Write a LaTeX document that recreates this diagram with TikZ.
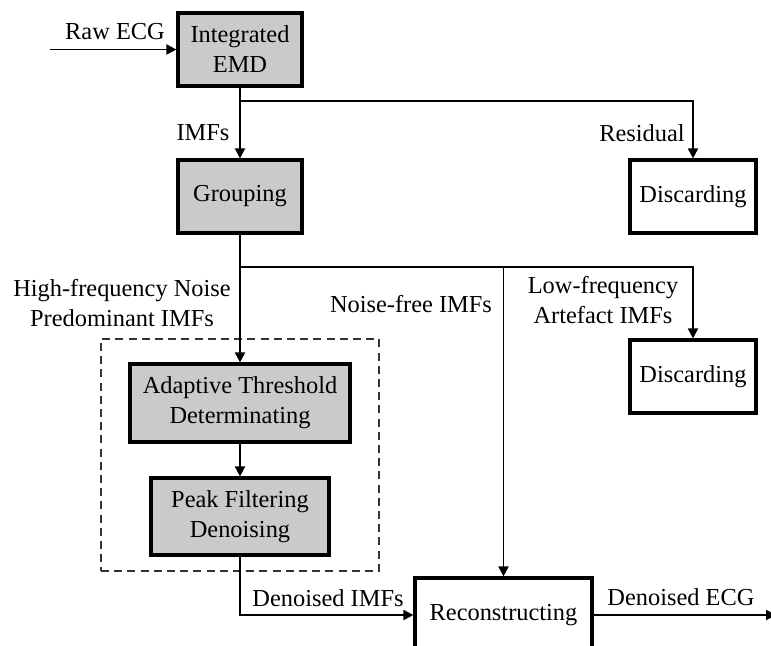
\documentclass[tikz,border=0pt]{standalone}
\usepackage{fontspec}
\setmainfont{Liberation Serif}
\usetikzlibrary{arrows.meta,positioning}
\definecolor{boxgray}{RGB}{202,202,202}
\tikzset{
  blk/.style={draw=black, fill=boxgray, line width=1.6pt, align=center,
              minimum width=62pt, minimum height=36.5pt, inner sep=1pt,
              font=\fontsize{12.2}{15}\selectfont},
  dblk/.style={blk, fill=white, minimum width=63pt},
  flow/.style={-{Triangle[length=5pt,width=5pt]}, line width=0.95pt},
  lbl/.style={font=\fontsize{12.2}{15}\selectfont, align=center, inner sep=0pt},
  dgrp/.style={draw=black!80, dashed, dash pattern=on 4pt off 2.6pt, line width=0.7pt,
               minimum width=139pt, minimum height=116pt},
}
\begin{document}
\begin{tikzpicture}[x=0.5pt, y=-0.5pt]
    \clip (0,0) rectangle (771,645);
    \fill[white] (0,0) rectangle (771,645);
    % denoising group
    \node[dgrp] (dngrp) at (240,455) {};
    % blocks
    \node[blk] (emd) at (240,49.5) {Integrated\\EMD};
    \node[blk] (grp) at (240,196.5) {Grouping};
    \node[dblk] (dis1) at (693,196.5) {Discarding};
    \node[dblk] (dis2) at (693,376.5) {Discarding};
    \node[blk, minimum width=110pt, minimum height=39pt] (adt) at (240,403) {Adaptive Threshold\\Determinating};
    \node[blk, minimum width=89pt, minimum height=38.5pt] (pkf) at (240,516.5) {Peak Filtering\\Denoising};
    \node[dblk, minimum width=88.5pt, minimum height=37pt] (rec) at (503.5,615) {Reconstructing};
    % free ends and split points
    \coordinate (rawin) at (50,49.5);
    \coordinate (ecgout) at (776,615);
    \coordinate (sp1) at (240,101);
    \coordinate (sp2) at (240,267);
    % connectors
    \draw[flow] (rawin) -- (emd.west);
    \draw[flow] (emd.south) -- (grp.north);
    \draw[flow] (sp1) -| (dis1.north);
    \draw[flow] (grp.south) -- (adt.north);
    \draw[flow] (sp2) -| (dis2.north);
    \draw[flow] (sp2 -| rec.north) -- (rec.north);
    \draw[flow] (adt.south) -- (pkf.north);
    \draw[flow] (pkf.south) |- (rec.west);
    \draw[flow] (rec.east) -- (ecgout);
    % labels
    \node[lbl] (lraw) at (115,32) {Raw ECG};
    \node[lbl] (limf) at (203,133) {IMFs};
    \node[lbl] (lres) at (642,133) {Residual};
    \node[lbl] (lhf) at (122,303) {High-frequency Noise\\Predominant IMFs};
    \node[lbl] (lnf) at (411,304) {Noise-free IMFs};
    \node[lbl] (llf) at (603,300) {Low-frequency\\Artefact IMFs};
    \node[lbl] (ldn) at (328,598) {Denoised IMFs};
    \node[lbl] (lecg) at (681,597) {Denoised ECG};
\end{tikzpicture}
\end{document}
